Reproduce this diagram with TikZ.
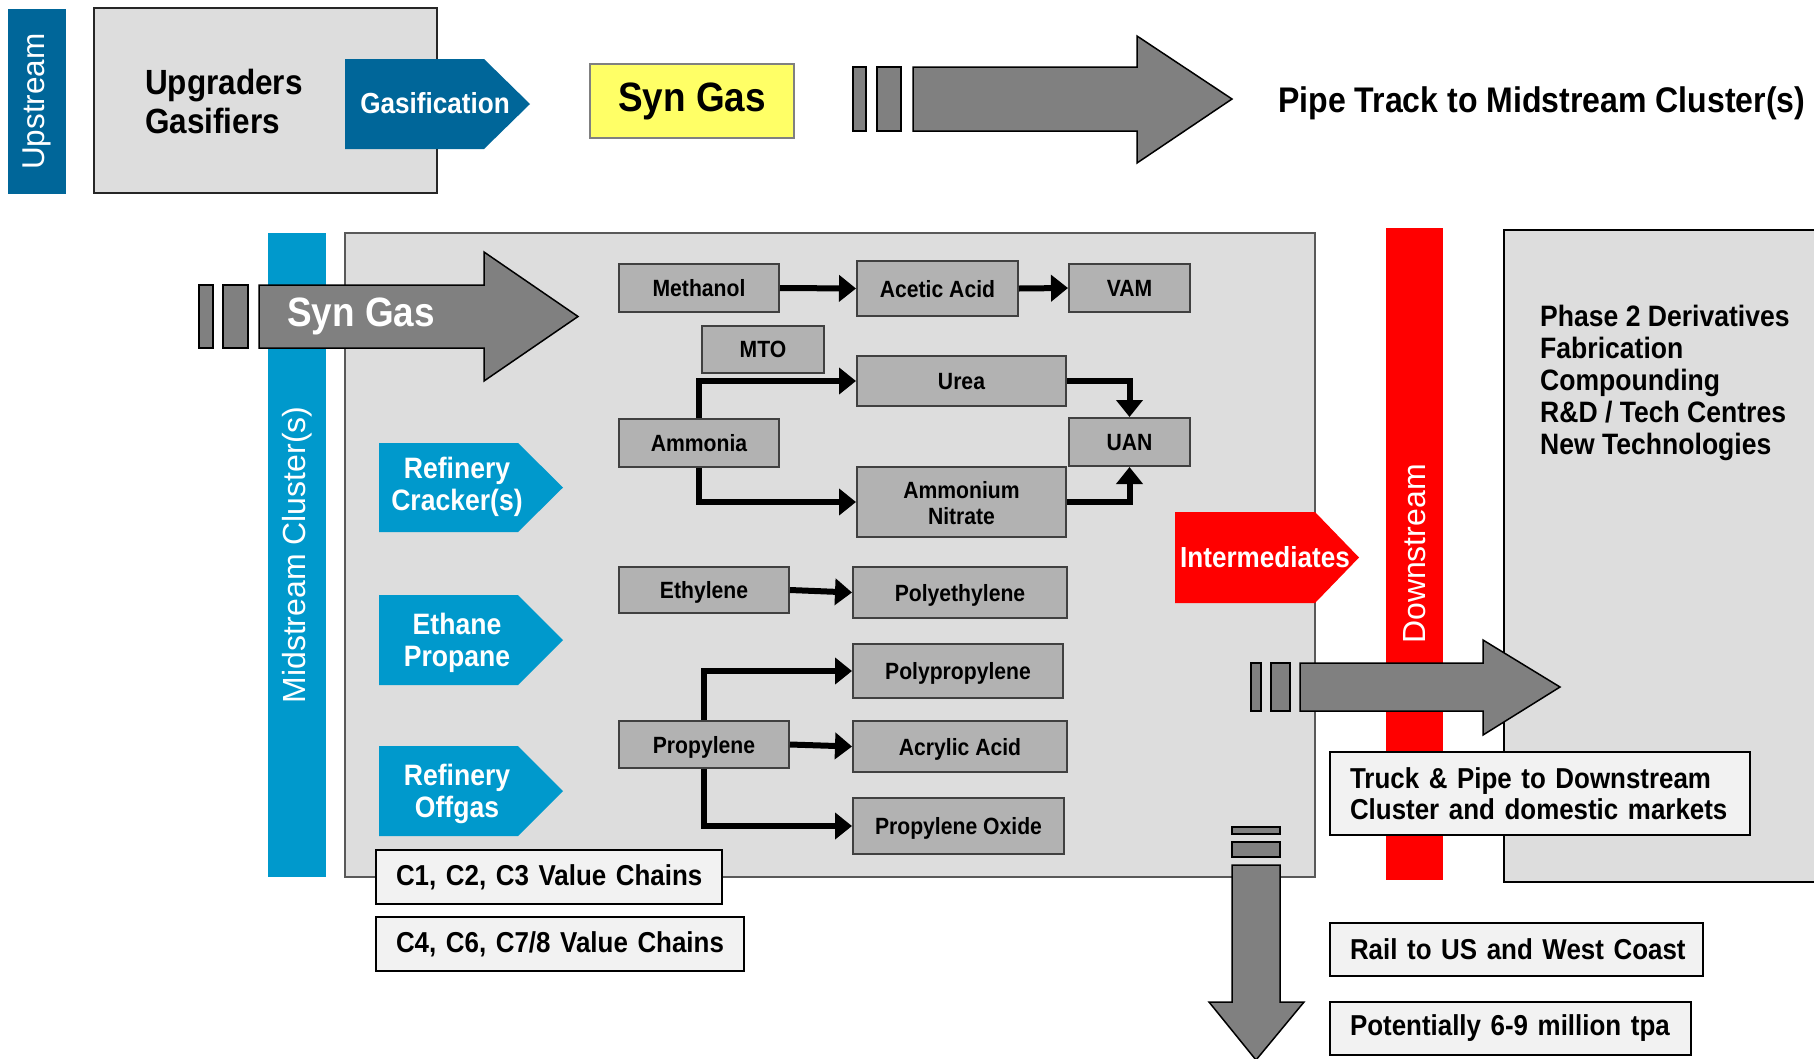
\documentclass[tikz,border=0pt]{standalone}
\usepackage{fontspec}
\setmainfont{Liberation Sans}
\newfontfamily\cond{Liberation Sans}[FakeStretch=0.9]
\usetikzlibrary{arrows.meta}

\definecolor{upblue}{HTML}{006699}
\definecolor{midblue}{HTML}{0099CC}
\definecolor{downred}{HTML}{FF0000}
\definecolor{panelgray}{HTML}{DDDDDD}
\definecolor{paneledge}{HTML}{595959}
\definecolor{gboxfill}{HTML}{B2B2B2}
\definecolor{gboxedge}{HTML}{404040}
\definecolor{pipegray}{HTML}{808080}
\definecolor{notefill}{HTML}{F2F2F2}
\definecolor{syngas}{HTML}{FFFF66}

\begin{document}
\begin{tikzpicture}[x=1pt,y=-1pt,
  panel/.style={draw=black, fill=panelgray, line width=2pt},
  band/.style={text=white, inner sep=0pt, font=\fontsize{32}{36}\selectfont},
  gbox/.style={draw=gboxedge, fill=gboxfill, line width=2pt, inner sep=0pt, text depth=0pt,
    align=center, font=\cond\bfseries\fontsize{23.5}{26}\selectfont},
  flow/.style={line width=6pt, -{Triangle[length=17pt,width=26pt]}},
  pipe/.style={draw=black, fill=pipegray, line width=1.5pt},
  tagtext/.style={text=white, align=center, inner sep=0pt,
    font=\cond\bfseries\fontsize{29.5}{32}\selectfont},
  note/.style={draw=black, fill=notefill, line width=2pt, inner xsep=20pt,
    inner ysep=0pt, align=left, font=\cond\bfseries\fontsize{28.8}{31}\selectfont},
  plain/.style={inner sep=0pt, align=left, font=\cond\bfseries\fontsize{29.5}{32}\selectfont}
]
\clip (0,0) rectangle (1814,1058);
\fill[white] (0,0) rectangle (1814,1058);

% ---------- upstream row ----------
\node[band, fill=upblue, rotate=90, minimum width=185pt, minimum height=58pt,
  font=\fontsize{31.5}{36}\selectfont] (up) at (37,101.5) {Upstream};
\node[panel, draw=black!85, minimum width=343pt, minimum height=185pt] (upg) at (265.5,100.5) {};
\node[plain, anchor=west, font=\cond\bfseries\fontsize{35}{39}\selectfont] (upgtxt) at (145,101) {Upgraders\\Gasifiers};
\fill[upblue] (345,59) -- (484,59) -- (530,104) -- (484,149) -- (345,149) -- cycle;
\node[tagtext, font=\cond\bfseries\fontsize{29}{32}\selectfont] (gasif) at (435,103) {Gasification};

\node[draw=pipegray, line width=1.5pt, fill=syngas, minimum width=204pt, minimum height=74pt,
  inner sep=0pt, font=\cond\bfseries\fontsize{41}{44}\selectfont] (syn1) at (692,101) {Syn Gas};

\draw[pipe] (853,67) rectangle (866,131);
\draw[pipe] (877,67) rectangle (901,131);
\draw[pipe] (913,67) -- (1137,67) -- (1137,36) -- (1232,99) -- (1137,163) -- (1137,131) -- (913,131) -- cycle;
\node[plain, anchor=west, font=\cond\bfseries\fontsize{35.6}{38}\selectfont] (pipetrack) at (1278,103) {Pipe Track to Midstream Cluster(s)};

% ---------- midstream cluster ----------
\node[panel, draw=paneledge, minimum width=970pt, minimum height=644pt] (mid) at (830,555) {};
\node[band, fill=midblue, rotate=90, minimum width=644pt, minimum height=58pt] (midband) at (297,555) {Midstream Cluster(s)};

% intermediates tag
\fill[downred] (1175,512) -- (1315,512) -- (1359,557.5) -- (1315,603) -- (1175,603) -- cycle;
\node[tagtext, font=\cond\bfseries\fontsize{29}{32}\selectfont] (inter) at (1265,557) {Intermediates};

% ---------- downstream ----------
\node[band, fill=downred, rotate=90, minimum width=652pt, minimum height=57pt] (downband) at (1414.5,554) {Downstream};
\draw[panel] (1504,230) rectangle (1840,882);
\node[plain, anchor=north west] (phase) at (1540,305)
  {Phase 2 Derivatives\\Fabrication\\Compounding\\R\&D / Tech Centres\\New Technologies};

% syn gas feed into the cluster
\draw[pipe] (199,285) rectangle (213,348);
\draw[pipe] (223,285) rectangle (248,348);
\draw[pipe] (259,285) -- (484,285) -- (484,252) -- (578,316.5) -- (484,381) -- (484,348) -- (259,348) -- cycle;
\node[plain, anchor=west, text=white, font=\cond\bfseries\fontsize{41}{44}\selectfont] (syn2) at (287,316) {Syn Gas};

% feedstock tags
\fill[midblue] (379,443) -- (518,443) -- (563,487.5) -- (518,532) -- (379,532) -- cycle;
\node[tagtext] (crack) at (457,487) {Refinery\\Cracker(s)};
\fill[midblue] (379,595) -- (518,595) -- (563,640) -- (518,685) -- (379,685) -- cycle;
\node[tagtext] (ethprop) at (457,642.5) {Ethane\\Propane};
\fill[midblue] (379,746) -- (518,746) -- (563,791) -- (518,836) -- (379,836) -- cycle;
\node[tagtext] (offgas) at (457,794) {Refinery\\Offgas};

% product boxes
\node[gbox, minimum width=160pt, minimum height=48pt] (meth) at (699,288) {Methanol};
\node[gbox, minimum width=161pt, minimum height=55pt] (acet) at (937.5,288.5) {Acetic Acid};
\node[gbox, minimum width=121pt, minimum height=48pt] (vam) at (1129.5,288) {VAM};
\node[gbox, minimum width=122pt, minimum height=47pt] (mto) at (763,349.5) {MTO};
\node[gbox, minimum width=209pt, minimum height=50pt] (urea) at (961.5,381) {Urea};
\node[gbox, minimum width=160pt, minimum height=48pt] (amm) at (699,443) {Ammonia};
\node[gbox, minimum width=121pt, minimum height=48pt] (uan) at (1129.5,442) {UAN};
\node[gbox, minimum width=209pt, minimum height=70pt] (an) at (961.5,502) {\raisebox{-2pt}{\shortstack{Ammonium\\[5pt]Nitrate}}};
\node[gbox, minimum width=170pt, minimum height=46pt] (eth) at (704,590) {Ethylene};
\node[gbox, minimum width=214pt, minimum height=51pt] (pe) at (960,592.5) {Polyethylene};
\node[gbox, minimum width=210pt, minimum height=54pt] (pp) at (958,671) {Polypropylene};
\node[gbox, minimum width=170pt, minimum height=47pt] (prop) at (704,744.5) {Propylene};
\node[gbox, minimum width=214pt, minimum height=51pt] (aa) at (960,746.5) {Acrylic Acid};
\node[gbox, minimum width=211pt, minimum height=56pt] (po) at (958.5,826) {Propylene Oxide};

% product flows
\draw[flow] (meth.east) -- (acet.west);
\draw[flow] (acet.east) -- (vam.west);
\draw[flow] (amm.north) |- (urea.west);
\draw[flow] (amm.south) |- (an.west);
\draw[flow] (urea.east) -| (uan.north);
\draw[flow] (an.east) -| (uan.south);
\draw[flow] (eth.east) -- (pe.west);
\draw[flow] (prop.north) |- (pp.west);
\draw[flow] (prop.east) -- (aa.west);
\draw[flow] (prop.south) |- (po.west);

% value chain notes
\node[note, minimum width=346pt, minimum height=54pt, text width=306pt] (vc1) at (549,877) {\mbox{C1, C2, C3 Value Chains}};
\node[note, minimum width=368pt, minimum height=54pt, text width=328pt] (vc2) at (560,944) {\mbox{C4, C6, C7/8 Value Chains}};

% truck & pipe route
\draw[pipe] (1251,663) rectangle (1261,711);
\draw[pipe] (1271,663) rectangle (1290,711);
\draw[pipe] (1300,663) -- (1483,663) -- (1483,640) -- (1560,687) -- (1483,735) -- (1483,711) -- (1300,711) -- cycle;
\node[note, minimum width=420pt, minimum height=83pt, text width=380pt] (truck) at (1540,793.5)
  {\mbox{Truck \& Pipe to Downstream}\\\mbox{Cluster and domestic markets}};

% rail route
\draw[pipe] (1232,827) rectangle (1280,834);
\draw[pipe] (1232,842) rectangle (1280,857);
\draw[pipe] (1232,865) -- (1280,865) -- (1280,1002) -- (1304,1002) -- (1256,1060) -- (1209,1002) -- (1232,1002) -- cycle;
\node[note, minimum width=373pt, minimum height=53pt, text width=333pt] (rail) at (1516.5,949.5) {\mbox{Rail to US and West Coast}};
\node[note, minimum width=361pt, minimum height=53pt, text width=321pt] (tpa) at (1510.5,1028.5) {\mbox{Potentially 6-9 million tpa}};
\end{tikzpicture}
\end{document}
